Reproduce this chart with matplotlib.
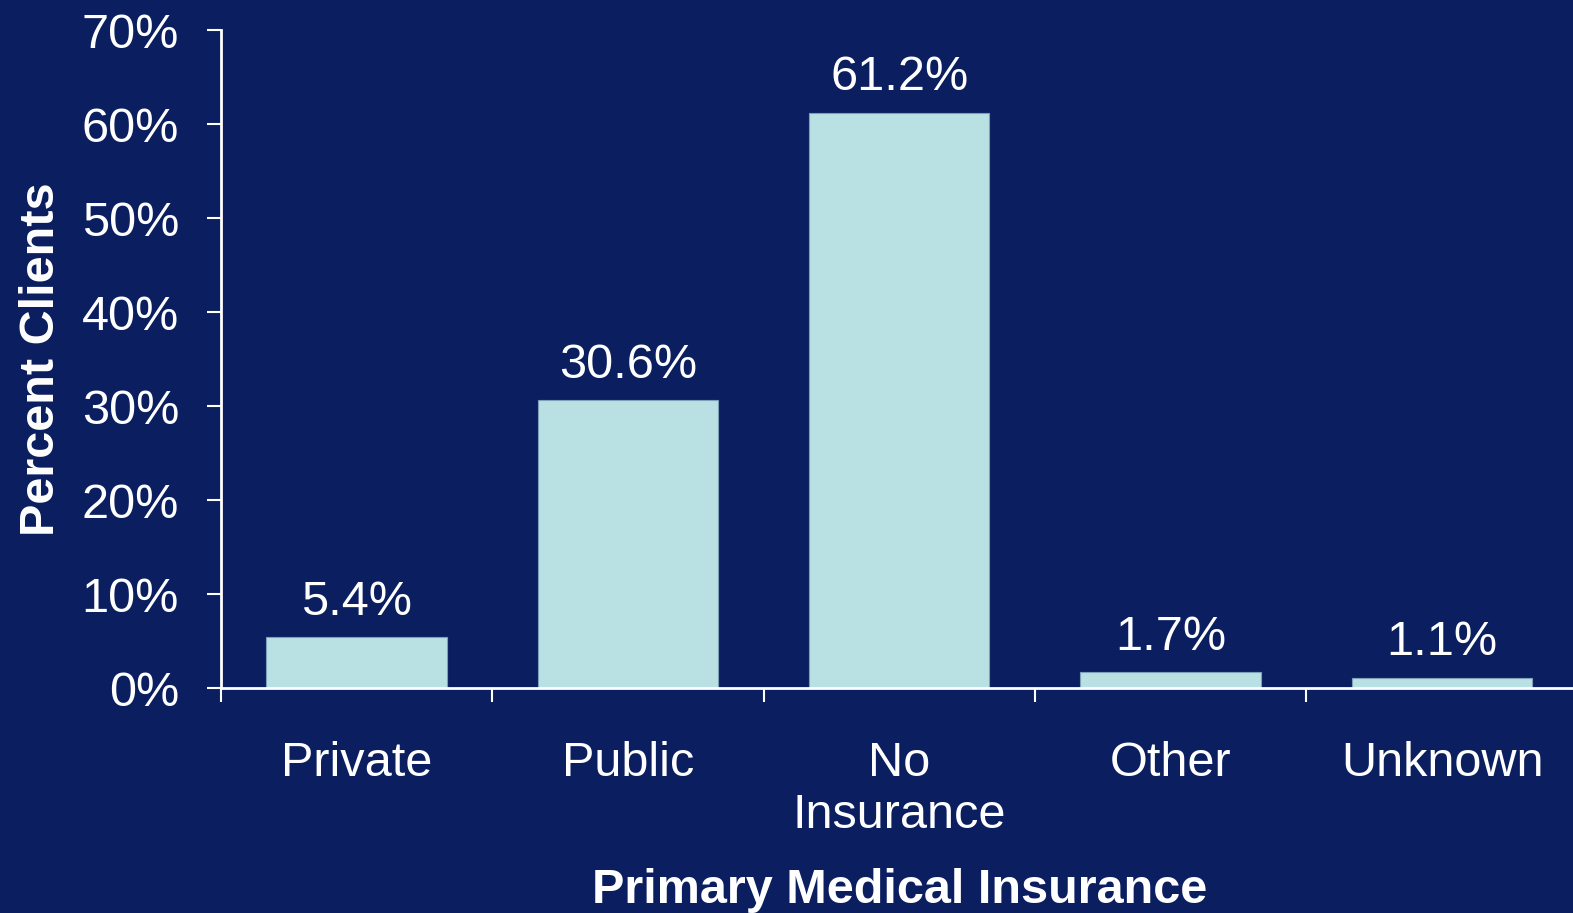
import numpy as np
import matplotlib.pyplot as plt
from matplotlib.ticker import FixedLocator, NullFormatter

plt.rcParams['font.family'] = ['Liberation Sans', 'DejaVu Sans']

# Data
categories = ['Private', 'Public', 'No\nInsurance', 'Other', 'Unknown']
percents = [5.4, 30.6, 61.2, 1.7, 1.1]
yticks = [0, 10, 20, 30, 40, 50, 60, 70]

bg = '#0b1f60'
bar_color = '#b9e0e3'
fs = 35

fig = plt.figure(figsize=(15.73, 9.13), dpi=100, facecolor=bg)
ax = fig.add_axes([0.1403, 0.2464, 0.8627, 0.7206])
ax.set_facecolor(bg)

x = np.arange(len(categories))
bars = ax.bar(x, percents, width=0.665, color=bar_color, edgecolor='#7f9fb8', linewidth=0.8)

for xi, v in zip(x, percents):
    ax.annotate(f'{v:.1f}%', (xi, v), xytext=(0, 9), textcoords='offset points',
                ha='center', va='bottom', color='white', fontsize=fs)

ax.set_xlim(-0.5, len(categories) - 0.5)
ax.set_ylim(0, 70)

# y axis
ax.set_yticks(yticks)
ax.set_yticklabels([f'{t}%' for t in yticks])
ax.tick_params(axis='y', colors='white', labelsize=fs, length=10, width=1.5,
               direction='out', pad=20)

# x axis: ticks at boundaries, labels at centers
ax.xaxis.set_major_locator(FixedLocator(np.arange(-0.5, len(categories), 1.0)))
ax.xaxis.set_major_formatter(NullFormatter())
ax.xaxis.set_minor_locator(FixedLocator(x))
ax.set_xticklabels(categories, minor=True)
ax.tick_params(axis='x', which='major', colors='white', length=10, width=1.5, direction='out')
ax.tick_params(axis='x', which='minor', colors='white', length=0, labelsize=fs, pad=38)
for lbl in ax.get_xticklabels(minor=True):
    lbl.set_linespacing(1.2)

for side in ['top', 'right']:
    ax.spines[side].set_visible(False)
for side in ['left', 'bottom']:
    ax.spines[side].set_color('white')
    ax.spines[side].set_linewidth(2)

ax.set_ylabel('Percent Clients', color='white', fontsize=fs, fontweight='bold', labelpad=13)
ax.set_xlabel('Primary Medical Insurance', color='white', fontsize=fs, fontweight='bold', labelpad=22)

fig.savefig('out.png', dpi=100, facecolor=bg)
